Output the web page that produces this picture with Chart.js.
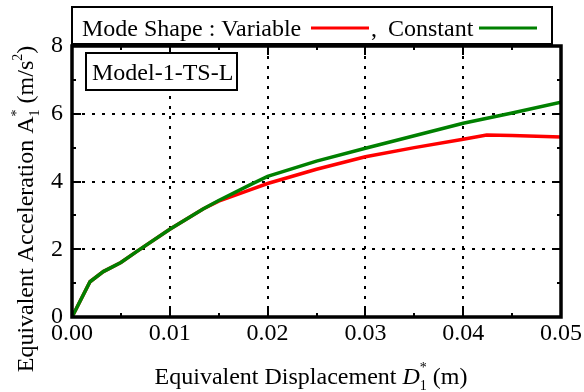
<!DOCTYPE html>
<html>
<head>
<meta charset="utf-8">
<script src="https://cdn.jsdelivr.net/npm/chart.js@4/dist/chart.umd.min.js"></script>
<style>
  html, body { margin: 0; padding: 0; background: #fff; }
</style>
</head>
<body>
<canvas id="chart" width="584" height="392"></canvas>
<script>
// data
const dispVariable = [0, 0.00184, 0.0032, 0.005, 0.0066, 0.01, 0.0134, 0.015, 0.0182, 0.02, 0.025, 0.03, 0.035, 0.04, 0.0424, 0.045, 0.05];
const accVariable  = [0, 1.04, 1.34, 1.61, 1.93, 2.59, 3.19, 3.42, 3.75, 3.94, 4.36, 4.73, 5.00, 5.25, 5.37, 5.36, 5.31];
const dispConstant = [0, 0.00184, 0.0032, 0.005, 0.0066, 0.01, 0.0134, 0.015, 0.0182, 0.02, 0.025, 0.03, 0.035, 0.04, 0.045, 0.05];
const accConstant  = [0, 1.04, 1.34, 1.61, 1.93, 2.59, 3.19, 3.44, 3.90, 4.15, 4.60, 4.98, 5.35, 5.72, 6.02, 6.34];
const xTicks = [0, 0.01, 0.02, 0.03, 0.04, 0.05];
const yTicks = [0, 2, 4, 6, 8];
const seriesNames = ['Variable', 'Constant'];
const seriesColors = ['#ff0000', '#008000'];
const modelName = 'Model-1-TS-L';

const FONT = "'Liberation Serif', 'Times New Roman', serif";

function toPoints(xs, ys) {
    let pts = [];
    for (let i = 0; i < xs.length; i++) pts.push({x: xs[i], y: ys[i]});
    return pts;
}

// draws a list of text pieces; pieces with stack:true share x with the previous one
function drawRich(ctx, parts, x, y, measureOnly) {
    let cx = x;
    let lastStart = x, lastW = 0;
    for (const p of parts) {
        ctx.font = (p.italic ? 'italic ' : '') + p.size + 'px ' + FONT;
        const w = ctx.measureText(p.text).width;
        if (p.stack) {
            if (!measureOnly) ctx.fillText(p.text, lastStart, y + (p.dy || 0));
            lastW = Math.max(lastW, w);
            cx = lastStart + lastW;
        } else {
            if (!measureOnly) ctx.fillText(p.text, cx, y + (p.dy || 0));
            lastStart = cx;
            lastW = w;
            cx = cx + w;
        }
    }
    return cx - x;
}

const framePlugin = {
    id: 'frame',
    beforeDatasetsDraw(chart) {
        const ctx = chart.ctx;
        const xs = chart.scales.x, ys = chart.scales.y;
        const a = chart.chartArea;
        ctx.save();
        ctx.strokeStyle = '#000';
        ctx.lineWidth = 2;
        ctx.setLineDash([3, 7]);
        xTicks.forEach(v => {
            if (v <= 0 || v >= 0.05) return;
            const px = Math.round(xs.getPixelForValue(v));
            ctx.beginPath(); ctx.moveTo(px, a.top); ctx.lineTo(px, a.bottom); ctx.stroke();
        });
        yTicks.forEach(v => {
            if (v <= 0 || v >= 8) return;
            const py = Math.round(ys.getPixelForValue(v));
            ctx.beginPath(); ctx.moveTo(a.left, py); ctx.lineTo(a.right, py); ctx.stroke();
        });
        ctx.restore();
    },
    afterDatasetsDraw(chart) {
        const ctx = chart.ctx;
        const xs = chart.scales.x, ys = chart.scales.y;
        const a = chart.chartArea;
        ctx.save();
        ctx.setLineDash([]);
        ctx.strokeStyle = '#000';
        // ticks, inward on all sides
        ctx.lineWidth = 2;
        for (let i = 0; i <= 10; i++) {
            const px = Math.round(xs.getPixelForValue(i * 0.005));
            const len = i % 2 === 0 ? 9 : 4;
            ctx.beginPath();
            ctx.moveTo(px, a.bottom); ctx.lineTo(px, a.bottom - len);
            ctx.moveTo(px, a.top); ctx.lineTo(px, a.top + len);
            ctx.stroke();
        }
        for (let v = 0; v <= 8; v++) {
            const py = Math.round(ys.getPixelForValue(v));
            const len = v % 2 === 0 ? 9 : 4;
            ctx.beginPath();
            ctx.moveTo(a.left, py); ctx.lineTo(a.left + len, py);
            ctx.moveTo(a.right, py); ctx.lineTo(a.right - len, py);
            ctx.stroke();
        }
        // frame
        ctx.lineWidth = 3.5;
        ctx.strokeRect(a.left, a.top, a.right - a.left, a.bottom - a.top);

        // model label box
        ctx.lineWidth = 2;
        ctx.fillStyle = '#fff';
        ctx.fillRect(86, 53, 151, 37);
        ctx.strokeRect(86, 53, 151, 37);
        ctx.fillStyle = '#000';
        ctx.font = '24px ' + FONT;
        ctx.textBaseline = 'alphabetic';
        ctx.textAlign = 'left';
        ctx.fillText(modelName, 92, 80);

        // legend box on top
        ctx.fillStyle = '#fff';
        ctx.fillRect(72, 7, 480, 37);
        ctx.strokeRect(72, 7, 480, 37);
        ctx.fillStyle = '#000';
        ctx.font = '24px ' + FONT;
        ctx.fillText('Mode Shape : ' + seriesNames[0], 82, 36);
        ctx.fillText(',', 371, 36);
        ctx.fillText(seriesNames[1], 388, 36);
        ctx.lineWidth = 3;
        ctx.strokeStyle = seriesColors[0];
        ctx.beginPath(); ctx.moveTo(311, 28); ctx.lineTo(369, 28); ctx.stroke();
        ctx.strokeStyle = seriesColors[1];
        ctx.beginPath(); ctx.moveTo(479, 28); ctx.lineTo(537, 28); ctx.stroke();

        // x axis title
        ctx.fillStyle = '#000';
        const xParts = [
            {text: 'Equivalent Displacement ', size: 24},
            {text: 'D', size: 24, italic: true},
            {text: '1', size: 14, dy: 6},
            {text: '*', size: 14, dy: -12, stack: true},
            {text: ' (m)', size: 24}
        ];
        const xw = drawRich(ctx, xParts, 0, 0, true);
        drawRich(ctx, xParts, 311 - xw / 2, 384);

        // y axis title
        const yParts = [
            {text: 'Equivalent Acceleration ', size: 24},
            {text: 'A', size: 24},
            {text: '1', size: 14, dy: 6},
            {text: '*', size: 14, dy: -12, stack: true},
            {text: ' (m/s', size: 24},
            {text: '2', size: 14, dy: -11},
            {text: ')', size: 24}
        ];
        const yw = drawRich(ctx, yParts, 0, 0, true);
        ctx.translate(33, 209);
        ctx.rotate(-Math.PI / 2);
        drawRich(ctx, yParts, -yw / 2, 0);
        ctx.restore();
    }
};

const ctx = document.getElementById('chart').getContext('2d');
const chart = new Chart(ctx, {
    type: 'scatter',
    data: {
        datasets: [{
            label: seriesNames[0],
            data: toPoints(dispVariable, accVariable),
            showLine: true,
            borderColor: seriesColors[0],
            borderWidth: 3.5,
            pointRadius: 0,
            tension: 0,
            order: 1
        }, {
            label: seriesNames[1],
            data: toPoints(dispConstant, accConstant),
            showLine: true,
            borderColor: seriesColors[1],
            borderWidth: 3.5,
            pointRadius: 0,
            tension: 0,
            order: 0
        }]
    },
    options: {
        responsive: false,
        animation: false,
        events: [],
        layout: { padding: { top: 46, right: 21, left: 0, bottom: 0 } },
        plugins: { legend: { display: false }, tooltip: { enabled: false } },
        scales: {
            x: {
                type: 'linear',
                min: 0, max: 0.05,
                grid: { display: false, drawTicks: false },
                border: { display: false },
                afterFit: function (scale) { scale.height = 75; },
                afterBuildTicks: function (scale) { scale.ticks = xTicks.map(v => ({value: v})); },
                ticks: {
                    color: '#000',
                    padding: 2,
                    maxRotation: 0,
                    font: { family: FONT, size: 24 },
                    callback: v => v.toFixed(2)
                }
            },
            y: {
                type: 'linear',
                min: 0, max: 8,
                grid: { display: false, drawTicks: false },
                border: { display: false },
                afterFit: function (scale) { scale.width = 72; },
                afterBuildTicks: function (scale) { scale.ticks = yTicks.map(v => ({value: v})); },
                ticks: {
                    color: '#000',
                    padding: 9,
                    font: { family: FONT, size: 24 },
                    callback: v => String(v)
                }
            }
        }
    },
    plugins: [framePlugin]
});
</script>
</body>
</html>
